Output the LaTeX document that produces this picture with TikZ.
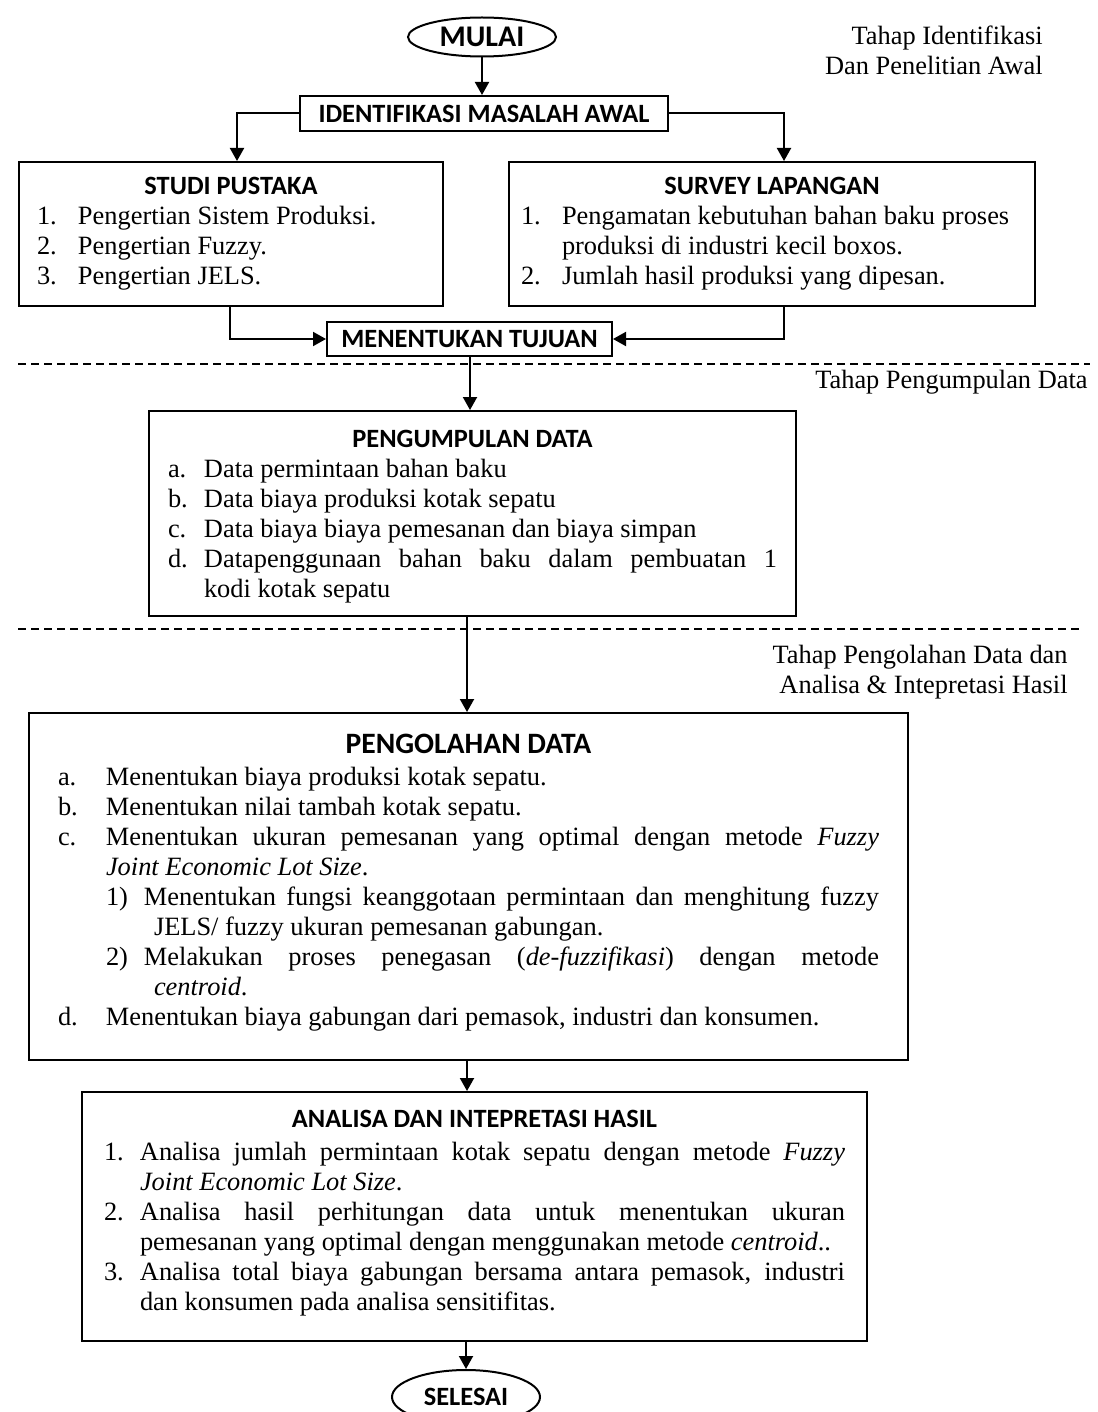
\documentclass[tikz,border=0pt]{standalone}
\usepackage{fontspec}
\setmainfont{Liberation Serif}
\newfontfamily\carlito{Carlito}
\usetikzlibrary{arrows.meta,shapes.geometric}
\newcommand\boxtext[3]{\parbox[c][#2][t]{#1}{\fontsize{13.2}{15}\selectfont\tolerance=9999\hbadness=10000\hyphenpenalty=10000 #3}}
\newcommand\itm[3]{\par\noindent\hangindent=#1\hangafter=1\makebox[#1][l]{#2}#3\par}
\newcommand\subitm[4]{\par{\leftskip=#1\relax\noindent\hangindent=#1\hangafter=1\makebox[#2][l]{#3}#4\par}}
\newcommand\hdr[2]{{\centering\carlito\bfseries\rule{0pt}{#1}#2\par}}
\begin{document}
\begin{tikzpicture}[x=0.5pt,y=-0.5pt]
\tikzset{
  box/.style={draw, rectangle, line width=1pt, inner sep=0pt, anchor=north west},
  smallbox/.style={draw, rectangle, line width=1pt, inner sep=0pt, font={\carlito\bfseries\fontsize{13.2}{15}\selectfont}},
  term/.style={draw, ellipse, line width=1pt, inner sep=0pt, minimum width=74pt},
  conn/.style={line width=1pt, -{Triangle[length=6.5pt,width=7pt]}},
  plain/.style={line width=1pt},
  sepline/.style={line width=0.7pt, dash pattern=on 4pt off 2.5pt},
  lbl/.style={inner sep=0pt, align=right, anchor=north east, font={\fontsize{13.2}{15}\selectfont}}
}
\useasboundingbox (0,0) rectangle (1097,1412);

% terminals
\node[term, minimum height=19.5pt, font={\carlito\bfseries\fontsize{15}{17}\selectfont}] (mulai) at (482,37) {MULAI};
\node[term, minimum height=27pt, font={\carlito\bfseries\fontsize{13.2}{15}\selectfont}] (selesai) at (466,1397) {SELESAI};

% small boxes
\node[smallbox, minimum width=184pt, minimum height=17.5pt] (ident) at (484,113.5) {IDENTIFIKASI MASALAH AWAL};
\node[smallbox, minimum width=142.5pt, minimum height=17pt] (tujuan) at (469.5,339) {MENENTUKAN TUJUAN};

% stage labels
\node[lbl] (lab1) at (1043,26) {Tahap Identifikasi\\Dan Penelitian Awal};
\node[lbl] (lab2) at (1088,370) {Tahap Pengumpulan Data};
\node[lbl] (lab3) at (1068,645) {Tahap Pengolahan Data dan\\Analisa \& Intepretasi Hasil};

% STUDI PUSTAKA
\node[box] (studi) at (18,161) {\hspace*{9pt}\boxtext{194pt}{72pt}{%
\hdr{16.5pt}{STUDI PUSTAKA}
\itm{20.5pt}{1.}{Pengertian Sistem Produksi.}
\itm{20.5pt}{2.}{Pengertian Fuzzy.}
\itm{20.5pt}{3.}{Pengertian JELS.}}\hspace*{9pt}};

% SURVEY LAPANGAN
\node[box] (survey) at (508,161) {\hspace*{6pt}\boxtext{251pt}{72pt}{%
\hdr{16.5pt}{SURVEY LAPANGAN}
\itm{20.5pt}{1.}{Pengamatan kebutuhan bahan baku proses\hfill\break produksi di industri kecil boxos.}
\itm{20.5pt}{2.}{Jumlah hasil produksi yang dipesan.}}\hspace*{6pt}};

% PENGUMPULAN DATA
\node[box] (kumpul) at (148,410) {\hspace*{9.5pt}\boxtext{304.5pt}{102.5pt}{%
\hdr{18.3pt}{PENGUMPULAN DATA}
\itm{18pt}{a.}{Data permintaan bahan baku}
\itm{18pt}{b.}{Data biaya produksi kotak sepatu}
\itm{18pt}{c.}{Data biaya biaya pemesanan dan biaya simpan}
\itm{18pt}{d.}{Datapenggunaan bahan baku dalam pembuatan 1\linebreak kodi kotak sepatu}}\hspace*{9.5pt}};

% PENGOLAHAN DATA
\node[box] (olah) at (28,712) {\hspace*{14.5pt}\boxtext{410.5pt}{173.5pt}{%
{\centering\carlito\bfseries\fontsize{14.8}{17}\selectfont\rule{0pt}{20.3pt}PENGOLAHAN DATA\par}
\vspace{0.75pt}
\itm{24pt}{a.}{Menentukan biaya produksi kotak sepatu.}
\itm{24pt}{b.}{Menentukan nilai tambah kotak sepatu.}
\itm{24pt}{c.}{Menentukan ukuran pemesanan yang optimal dengan metode \textit{Fuzzy}\linebreak \textit{Joint Economic Lot Size}.}
\subitm{24pt}{19pt}{1)}{Menentukan fungsi keanggotaan permintaan dan menghitung fuzzy\linebreak JELS/ fuzzy ukuran pemesanan gabungan.}
\subitm{24pt}{19pt}{2)}{Melakukan proses penegasan (\textit{de-fuzzifikasi}) dengan metode\linebreak \textit{centroid}.}
\itm{24pt}{d.}{Menentukan biaya gabungan dari pemasok, industri dan konsumen.}}\hspace*{14.5pt}};

% ANALISA
\node[box] (analisa) at (81,1091) {\hspace*{11pt}\boxtext{370.5pt}{124.5pt}{%
\hdr{17.8pt}{ANALISA DAN INTEPRETASI HASIL}
\vspace{1.3pt}
\itm{18pt}{1.}{Analisa jumlah permintaan kotak sepatu dengan metode \textit{Fuzzy}\linebreak \textit{Joint Economic Lot Size}.}
\itm{18pt}{2.}{Analisa hasil perhitungan data untuk menentukan ukuran\linebreak pemesanan yang optimal dengan menggunakan metode \textit{centroid}..}
\itm{18pt}{3.}{Analisa total biaya gabungan bersama antara pemasok, industri\linebreak dan konsumen pada analisa sensitifitas.}}\hspace*{11pt}};

% helper columns
\coordinate (xL) at (237,0);
\coordinate (xL2) at (230,0);
\coordinate (xR) at (784,0);
\coordinate (xc) at (470,0);
\coordinate (xd) at (467,0);

% dashed separators
\draw[sepline] (18,364) -- (1090,364);
\draw[sepline] (18,629) -- (1080,629);

% connectors
\draw[conn] (mulai) -- (mulai |- ident.north);
\draw[conn] (ident.west) -| (xL |- studi.north);
\draw[conn] (ident.east) -| (xR |- survey.north);
\draw[conn] (xL2 |- studi.south) |- (tujuan.west);
\draw[conn] (xR |- survey.south) |- (tujuan.east);
\draw[conn] (xc |- tujuan.south) -- (xc |- kumpul.north);
\draw[conn] (xd |- kumpul.south) -- (xd |- olah.north);
\draw[conn] (xd |- olah.south) -- (xd |- analisa.north);
\draw[conn] (selesai.north |- analisa.south) -- (selesai.north);
\end{tikzpicture}
\end{document}
